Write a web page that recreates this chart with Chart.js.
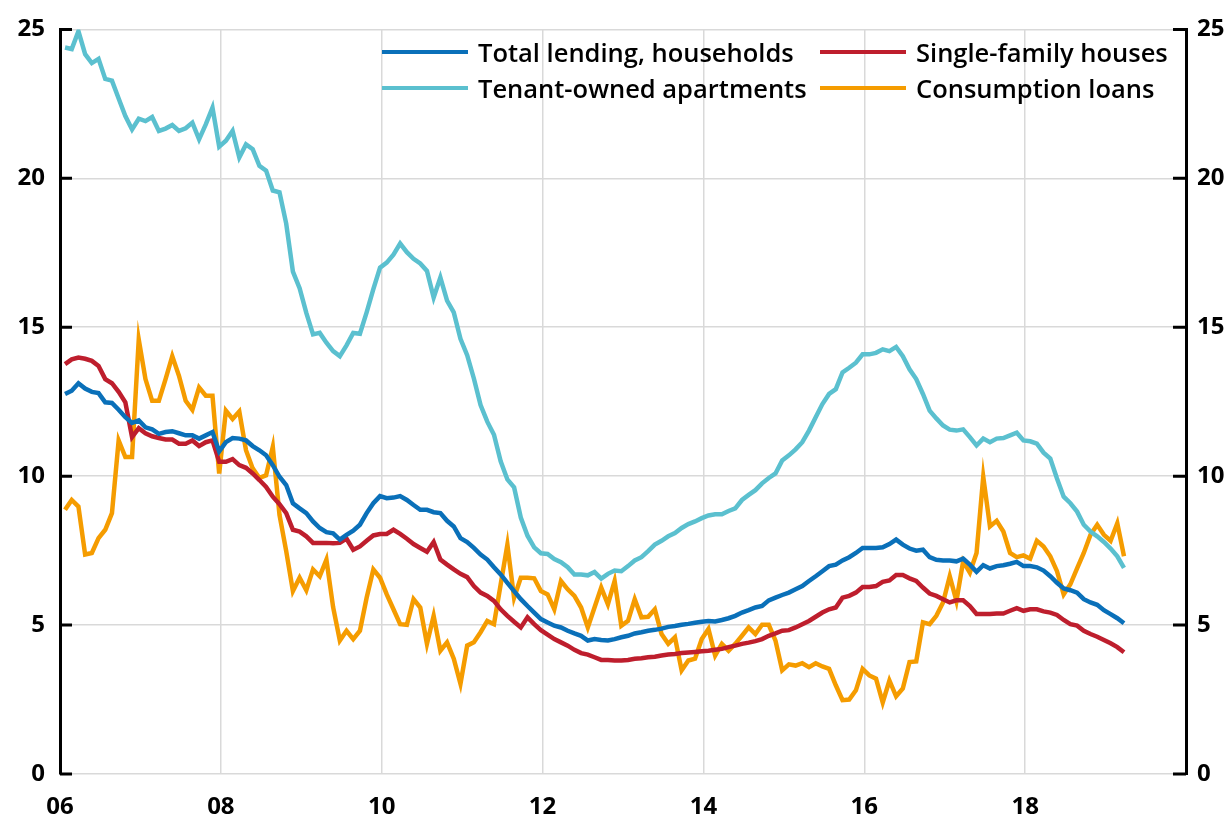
<!DOCTYPE html>
<html>
<head>
<meta charset="utf-8">
<script src="https://cdn.jsdelivr.net/npm/chart.js@4.4.1/dist/chart.umd.min.js"></script>
<style>
    body { margin: 0; background: #fff; }
    #wrap { position: relative; width: 1229px; height: 825px; }
    #legend {
        position: absolute; left: 382px; top: 34px;
        display: grid; grid-template-columns: 438px auto; grid-auto-rows: 36px;
        font-family: "Open Sans", Lato, sans-serif; font-weight: 600; font-size: 25.5px; color: #000;
    }
    #legend .item { display: flex; align-items: center; white-space: nowrap; }
    #legend .swatch { width: 86px; height: 4px; margin-right: 10px; }
</style>
</head>
<body>
<div id="wrap">
    <canvas id="myChart" width="1229" height="825"></canvas>
    <div id="legend"></div>
</div>
<script>
// monthly series, first point Jan 2006
const startYear = 2006;

const seriesNames = ['Total lending, households', 'Single-family houses', 'Tenant-owned apartments', 'Consumption loans'];
const seriesColors = ['#0a70b9', '#be1e2d', '#5bc0cf', '#f59c00'];

const xTickYears = [2006, 2008, 2010, 2012, 2014, 2016, 2018];
const xTickLabels = ['06', '08', '10', '12', '14', '16', '18'];
const yTicks = [0, 5, 10, 15, 20, 25];

const totalLending = [
    12.76, 12.87, 13.12, 12.94, 12.83, 12.79, 12.48, 12.46, 12.23, 11.98, 11.79, 11.87,
    11.64, 11.57, 11.42, 11.48, 11.51, 11.44, 11.37, 11.37, 11.26, 11.37, 11.48, 10.83,
    11.14, 11.28, 11.26, 11.2, 11.01, 10.87, 10.7, 10.37, 9.98, 9.7, 9.09, 8.92,
    8.76, 8.48, 8.26, 8.12, 8.08, 7.87, 8.03, 8.17, 8.37, 8.76, 9.09, 9.33,
    9.26, 9.28, 9.33, 9.2, 9.03, 8.87, 8.87, 8.79, 8.76, 8.5, 8.31, 7.92,
    7.79, 7.59, 7.37, 7.2, 6.94, 6.7, 6.42, 6.14, 5.87, 5.64, 5.42, 5.2,
    5.09, 4.98, 4.92, 4.81, 4.72, 4.64, 4.48, 4.53, 4.5, 4.48, 4.53, 4.59,
    4.64, 4.72, 4.76, 4.81, 4.84, 4.88, 4.94, 4.97, 5.01, 5.04, 5.08, 5.11,
    5.14, 5.12, 5.17, 5.23, 5.31, 5.42, 5.5, 5.59, 5.64, 5.83, 5.92, 6.01,
    6.09, 6.2, 6.31, 6.48, 6.64, 6.81, 6.98, 7.03, 7.17, 7.28, 7.42, 7.59,
    7.59, 7.59, 7.61, 7.72, 7.87, 7.7, 7.57, 7.5, 7.53, 7.28, 7.19, 7.17,
    7.17, 7.14, 7.23, 7.03, 6.79, 7.01, 6.9, 6.98, 7.01, 7.06, 7.12, 6.98,
    6.98, 6.94, 6.83, 6.64, 6.42, 6.23, 6.17, 6.09, 5.87, 5.76, 5.68, 5.5,
    5.37, 5.23, 5.06
];

const singleFamily = [
    13.76, 13.92, 13.98, 13.94, 13.87, 13.7, 13.26, 13.12, 12.83, 12.48, 11.31, 11.61,
    11.44, 11.34, 11.28, 11.23, 11.23, 11.09, 11.09, 11.2, 11.01, 11.14, 11.2, 10.48,
    10.48, 10.57, 10.37, 10.28, 10.09, 9.87, 9.64, 9.31, 9.06, 8.76, 8.2, 8.14,
    7.98, 7.76, 7.76, 7.76, 7.75, 7.76, 7.9, 7.53, 7.64, 7.83, 8.01, 8.06,
    8.06, 8.2, 8.06, 7.9, 7.72, 7.59, 7.46, 7.79, 7.2, 7.03, 6.87, 6.72,
    6.61, 6.31, 6.09, 5.98, 5.81, 5.53, 5.31, 5.11, 4.92, 5.26, 5.03, 4.83,
    4.68, 4.53, 4.42, 4.31, 4.17, 4.06, 4.01, 3.92, 3.83, 3.83, 3.81, 3.81,
    3.83, 3.87, 3.89, 3.92, 3.94, 3.98, 4.01, 4.03, 4.06, 4.08, 4.1, 4.12,
    4.14, 4.17, 4.2, 4.26, 4.31, 4.37, 4.41, 4.46, 4.53, 4.64, 4.72, 4.81,
    4.83, 4.92, 5.03, 5.14, 5.28, 5.42, 5.53, 5.59, 5.92, 5.98, 6.09, 6.28,
    6.28, 6.31, 6.45, 6.5, 6.68, 6.68, 6.57, 6.48, 6.26, 6.06, 5.98, 5.87,
    5.76, 5.83, 5.83, 5.64, 5.37, 5.37, 5.37, 5.39, 5.39, 5.48, 5.57, 5.48,
    5.53, 5.53, 5.46, 5.42, 5.34, 5.17, 5.03, 4.98, 4.81, 4.7, 4.61, 4.5,
    4.39, 4.26, 4.09
];

const tenantOwned = [
    24.39, 24.34, 24.94, 24.17, 23.87, 24.01, 23.34, 23.28, 22.68, 22.09, 21.64, 22.0,
    21.92, 22.06, 21.59, 21.67, 21.79, 21.59, 21.68, 21.87, 21.31, 21.81, 22.37, 21.06,
    21.26, 21.59, 20.7, 21.14, 20.98, 20.42, 20.26, 19.59, 19.53, 18.48, 16.87, 16.31,
    15.48, 14.76, 14.81, 14.48, 14.2, 14.03, 14.39, 14.81, 14.78, 15.5, 16.28, 17.0,
    17.17, 17.44, 17.81, 17.52, 17.3, 17.14, 16.89, 16.0, 16.67, 15.89, 15.5, 14.61,
    14.06, 13.28, 12.39, 11.83, 11.39, 10.5, 9.89, 9.63, 8.61, 8.0, 7.61, 7.41,
    7.39, 7.22, 7.11, 6.94, 6.7, 6.7, 6.67, 6.78, 6.56, 6.72, 6.83, 6.81,
    6.98, 7.17, 7.28, 7.48, 7.7, 7.83, 7.98, 8.09, 8.26, 8.39, 8.48, 8.59,
    8.68, 8.72, 8.72, 8.83, 8.92, 9.2, 9.37, 9.53, 9.76, 9.94, 10.09, 10.53,
    10.7, 10.9, 11.14, 11.53, 11.98, 12.42, 12.76, 12.92, 13.48, 13.64, 13.81, 14.09,
    14.09, 14.14, 14.26, 14.2, 14.34, 14.03, 13.59, 13.26, 12.76, 12.2, 11.94, 11.7,
    11.56, 11.53, 11.57, 11.31, 11.03, 11.26, 11.14, 11.26, 11.28, 11.37, 11.46, 11.2,
    11.17, 11.09, 10.79, 10.59, 9.92, 9.31, 9.09, 8.81, 8.37, 8.14, 7.98, 7.79,
    7.57, 7.31, 6.92
];

const consumption = [
    8.87, 9.2, 8.98, 7.37, 7.42, 7.92, 8.2, 8.76, 11.2, 10.64, 10.64, 14.59,
    13.26, 12.53, 12.53, 13.26, 14.03, 13.37, 12.53, 12.23, 12.98, 12.7, 12.7, 10.09,
    12.2, 11.92, 12.17, 10.87, 10.26, 9.94, 10.03, 10.98, 8.7, 7.48, 6.14, 6.59,
    6.17, 6.87, 6.64, 7.2, 5.6, 4.48, 4.81, 4.53, 4.81, 5.92, 6.87, 6.59,
    6.03, 5.53, 5.03, 5.01, 5.87, 5.59, 4.37, 5.31, 4.14, 4.42, 3.87, 3.03,
    4.31, 4.42, 4.76, 5.14, 5.03, 6.37, 7.7, 5.92, 6.59, 6.59, 6.57, 6.14,
    6.03, 5.53, 6.48, 6.2, 5.98, 5.59, 4.92, 5.59, 6.26, 5.7, 6.48, 4.98,
    5.14, 5.87, 5.26, 5.28, 5.53, 4.7, 4.37, 4.59, 3.48, 3.81, 3.87, 4.53,
    4.87, 3.98, 4.37, 4.14, 4.37, 4.64, 4.92, 4.7, 5.01, 5.01, 4.48, 3.48,
    3.68, 3.64, 3.72, 3.59, 3.72, 3.61, 3.53, 2.98, 2.48, 2.5, 2.81, 3.53,
    3.31, 3.2, 2.4, 3.14, 2.61, 2.87, 3.76, 3.78, 5.09, 5.03, 5.31, 5.76,
    6.64, 5.81, 7.14, 6.76, 7.42, 9.98, 8.31, 8.5, 8.14, 7.42, 7.28, 7.34,
    7.23, 7.83, 7.64, 7.31, 6.81, 6.03, 6.37, 6.9, 7.42, 8.03, 8.37, 8.03,
    7.83, 8.42, 7.31
];

// month positions on the year axis
const months = totalLending.map(function (v, i) {
    return startYear + (i + 0.75) / 12;
});

function toPoints(values) {
    return values.map(function (v, i) {
        return {x: months[i], y: v};
    });
}

const allSeries = [totalLending, singleFamily, tenantOwned, consumption];

const tickFont = {family: '"Open Sans", Lato, sans-serif', weight: 'bold', size: 24};

// excel style tick marks pointing into the plot
const inwardTicks = {
    id: 'inwardTicks',
    afterDraw: function (chart) {
        const ctx = chart.ctx;
        const area = chart.chartArea;
        const ys = chart.scales.y;
        ctx.save();
        ctx.strokeStyle = '#000';
        ctx.lineWidth = 3;
        ys.ticks.forEach(function (t) {
            const py = ys.getPixelForValue(t.value);
            ctx.beginPath();
            ctx.moveTo(area.left, py);
            ctx.lineTo(area.left + 12, py);
            ctx.moveTo(area.right - 13, py);
            ctx.lineTo(area.right, py);
            ctx.stroke();
        });
        ctx.restore();
    }
};

const ctx = document.getElementById('myChart').getContext('2d');
const myChart = new Chart(ctx, {
    type: 'line',
    data: {
        datasets: allSeries.map(function (values, k) {
            return {
                label: seriesNames[k],
                data: toPoints(values),
                borderColor: seriesColors[k],
                backgroundColor: seriesColors[k],
                borderWidth: 4.5,
                pointRadius: 0,
                tension: 0,
                yAxisID: 'y'
            };
        })
    },
    options: {
        responsive: false,
        animation: false,
        devicePixelRatio: 1,
        layout: {padding: {top: 24}},
        plugins: {
            legend: {display: false},
            tooltip: {enabled: false}
        },
        scales: {
            x: {
                type: 'linear',
                min: 2006,
                max: 2020,
                ticks: {
                    stepSize: 2,
                    autoSkip: false,
                    maxRotation: 0,
                    padding: 19,
                    color: '#000',
                    font: tickFont,
                    callback: function (value) {
                        const k = xTickYears.indexOf(value);
                        return k >= 0 ? xTickLabels[k] : '';
                    }
                },
                grid: {color: '#d9d9d9', lineWidth: 1.5, drawTicks: false},
                border: {display: false},
                afterFit: function (scale) { scale.height = 51; }
            },
            y: {
                position: 'left',
                min: yTicks[0],
                max: yTicks[yTicks.length - 1],
                ticks: {stepSize: 5, padding: 15, color: '#000', font: tickFont},
                grid: {color: '#d9d9d9', lineWidth: 1.5, drawTicks: false},
                border: {color: '#000', width: 3},
                afterFit: function (scale) { scale.width = 60; }
            },
            y2: {
                position: 'right',
                min: yTicks[0],
                max: yTicks[yTicks.length - 1],
                ticks: {stepSize: 5, padding: 11, color: '#000', font: tickFont},
                grid: {drawOnChartArea: false, drawTicks: false},
                border: {color: '#000', width: 3},
                afterFit: function (scale) { scale.width = 43; }
            }
        }
    },
    plugins: [inwardTicks]
});

// legend in two columns inside the plot
const legend = document.getElementById('legend');
seriesNames.forEach(function (name, k) {
    const item = document.createElement('div');
    item.className = 'item';
    const sw = document.createElement('span');
    sw.className = 'swatch';
    sw.style.background = seriesColors[k];
    const txt = document.createElement('span');
    txt.textContent = name;
    item.appendChild(sw);
    item.appendChild(txt);
    legend.appendChild(item);
});
</script>
</body>
</html>
